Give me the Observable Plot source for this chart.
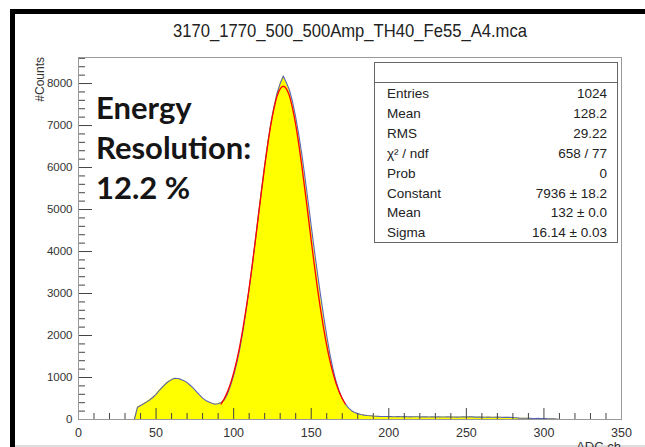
<!DOCTYPE html>
<html>
<head>
<meta charset="utf-8">
<script src="https://cdn.jsdelivr.net/npm/d3@7"></script>
<script src="https://cdn.jsdelivr.net/npm/@observablehq/plot@0.6"></script>
<style>
  html, body { margin: 0; padding: 0; background: #fff; }
  #chart svg { display: block; }
</style>
</head>
<body>
<div id="chart"></div>
<script>
// ---------------- data ----------------
const chartTitle = "3170_1770_500_500Amp_TH40_Fe55_A4.mca";
const xAxisLabel = "ADC ch";
const yAxisLabel = "#Counts";
const annotationLines = ["Energy", "Resolution:", "12.2 %"];

// histogram: channels start at 36, bins of 2 channels
const firstChannel = 36;
const channelStep = 2;
const counts = [
  0, 290, 335, 375, 420, 470, 530, 600, 690, 770,
  845, 905, 950, 980, 975, 955, 925, 880, 815, 745,
  665, 585, 510, 455, 415, 385, 365, 375, 405, 470,
  610, 810, 1050, 1340, 1690, 2110, 2590, 3110, 3670, 4270,
  4880, 5480, 6060, 6590, 7060, 7450, 7770, 8000, 8180, 8020,
  7840, 7560, 7200, 6780, 6300, 5760, 5190, 4610, 4040, 3490,
  2960, 2460, 1990, 1570, 1210, 910, 680, 500, 370, 275,
  210, 168, 140, 120, 105, 95, 88, 82, 78, 74,
  72, 70, 72, 68, 66, 70, 64, 68, 66, 62,
  66, 64, 60, 64, 62, 60, 64, 58, 62, 60,
  58, 62, 58, 60, 56, 60, 62, 58, 66, 62,
  56, 58, 56, 54, 58, 54, 52, 56, 52, 50,
  52, 50, 48, 40, 32, 30, 28, 30, 26, 24,
  26, 22, 24, 20, 18, 16, 12, 0
];

// gaussian fit curve (red), sampled every 2 channels from 92 to 172
const fitFirstChannel = 92;
const fitValues = [
  370, 500, 660, 860, 1110, 1410, 1760, 2170, 2630, 3130,
  3680, 4260, 4860, 5450, 6020, 6550, 7020, 7400, 7700, 7875,
  7936, 7875, 7700, 7400, 7020, 6550, 6020, 5450, 4860, 4260,
  3680, 3130, 2630, 2170, 1760, 1410, 1110, 860, 660, 500, 370
];

// axes
const xTickLabels = [0, 50, 100, 150, 200, 250, 300, 350];
const xMinorTicks = [10,20,30,40,60,70,80,90,110,120,130,140,160,170,180,190,210,220,230,240,260,270,280,290,310,320,330,340];
const yTickLabels = [0, 1000, 2000, 3000, 4000, 5000, 6000, 7000, 8000];
const yMinorTicks = [200,400,600,800,1200,1400,1600,1800,2200,2400,2600,2800,3200,3400,3600,3800,4200,4400,4600,4800,5200,5400,5600,5800,6200,6400,6600,6800,7200,7400,7600,7800,8200,8400,8600];

// statistics box
const statsLabels = ["Entries", "Mean", "RMS", "χ² / ndf", "Prob", "Constant", "Mean", "Sigma"];
const statsValues = ["1024", "128.2", "29.22", "658 / 77", "0", "7936 ± 18.2", "132 ± 0.0", "16.14 ± 0.03"];

// ---------------- chart ----------------
const hist = counts.map((c, i) => ({adc: firstChannel + i * channelStep, count: c}));
const fit = fitValues.map((v, i) => ({adc: fitFirstChannel + i * channelStep, value: v}));

const W = 645, H = 447, mL = 78, mR = 24, mT = 57, mB = 28;
const plotW = W - mL - mR, plotH = H - mT - mB;
const rootFont = "'Liberation Sans', Arial, sans-serif";
const tickColor = "#444";

const svg = Plot.plot({
  width: W, height: H,
  marginLeft: mL, marginRight: mR, marginTop: mT, marginBottom: mB,
  style: {fontFamily: rootFont, background: "#fff", overflow: "visible"},
  x: {domain: [0, 350]},
  y: {domain: [0, 8620]},
  marks: [
    Plot.areaY(hist, {x: "adc", y: "count", curve: "linear", fill: "#ffff00"}),
    Plot.lineY(hist, {x: "adc", y: "count", curve: "linear", stroke: "#5a64b4", strokeWidth: 1.1}),
    Plot.line(fit, {x: "adc", y: "value", curve: "monotone-x", stroke: "#ff0000", strokeWidth: 1.3}),
    Plot.ruleX(xMinorTicks, {insetTop: plotH - 6, stroke: tickColor}),
    Plot.ruleX(xTickLabels, {insetTop: plotH - 11, stroke: tickColor}),
    Plot.ruleY(yMinorTicks, {insetRight: plotW - 7, stroke: tickColor}),
    Plot.ruleY(yTickLabels, {insetRight: plotW - 14, stroke: tickColor}),
    Plot.frame({stroke: "#999"}),
    Plot.axisX(xTickLabels, {tickSize: 0, tickPadding: 9, fontSize: 12.5, label: null, color: "#333", tickFormat: d => String(d)}),
    Plot.axisY(yTickLabels, {tickSize: 0, tickPadding: 6, fontSize: 11.5, label: null, color: "#333", tickFormat: d => String(d)})
  ]
});

const s = d3.select(svg);

// outer border (black band top & left, thin line at bottom)
s.append("rect").attr("x", 10).attr("y", 9).attr("width", W - 10).attr("height", 5).attr("fill", "#000");
s.append("rect").attr("x", 10).attr("y", 9).attr("width", 5).attr("height", H - 9).attr("fill", "#000");
s.append("line").attr("x1", 15).attr("x2", W).attr("y1", 446).attr("y2", 446).attr("stroke", "#bbb");

// title
s.append("text").attr("x", 350).attr("y", 37).attr("text-anchor", "middle")
  .attr("textLength", 354).attr("lengthAdjust", "spacingAndGlyphs")
  .style("font-family", rootFont).style("font-size", "19px").attr("fill", "#222").text(chartTitle);

// axis titles
s.append("text").attr("transform", "translate(44,57) rotate(-90)").attr("text-anchor", "end")
  .style("font-family", rootFont).style("font-size", "12px").attr("fill", "#333").text(yAxisLabel);
s.append("text").attr("x", 621).attr("y", 451).attr("text-anchor", "end")
  .style("font-family", rootFont).style("font-size", "13px").attr("fill", "#333").text(xAxisLabel);

// annotation
const ann = s.append("g").attr("text-anchor", "start")
  .style("font-family", "Lato, 'Open Sans', sans-serif").style("font-weight", "bold")
  .style("font-size", "31px").attr("fill", "#151515");
annotationLines.forEach((t, i) => ann.append("text").attr("x", 96).attr("y", 119 + i * 40).attr("text-anchor", "start").text(t));

// stats box
const box = s.append("g");
box.append("rect").attr("x", 374.5).attr("y", 62.5).attr("width", 243).attr("height", 180)
  .attr("fill", "#fff").attr("stroke", "#666");
box.append("line").attr("x1", 374.5).attr("x2", 617.5).attr("y1", 82.5).attr("y2", 82.5).attr("stroke", "#666");
statsLabels.forEach((t, i) => {
  box.append("text").attr("x", 387).attr("y", 98 + i * 19.9).attr("text-anchor", "start")
    .style("font-family", rootFont).style("font-size", "13.5px").attr("fill", "#222").text(t);
  box.append("text").attr("x", 607).attr("y", 98 + i * 19.9).attr("text-anchor", "end")
    .style("font-family", rootFont).style("font-size", "13.5px").attr("fill", "#222").text(statsValues[i]);
});

document.getElementById("chart").appendChild(svg);
</script>
</body>
</html>
